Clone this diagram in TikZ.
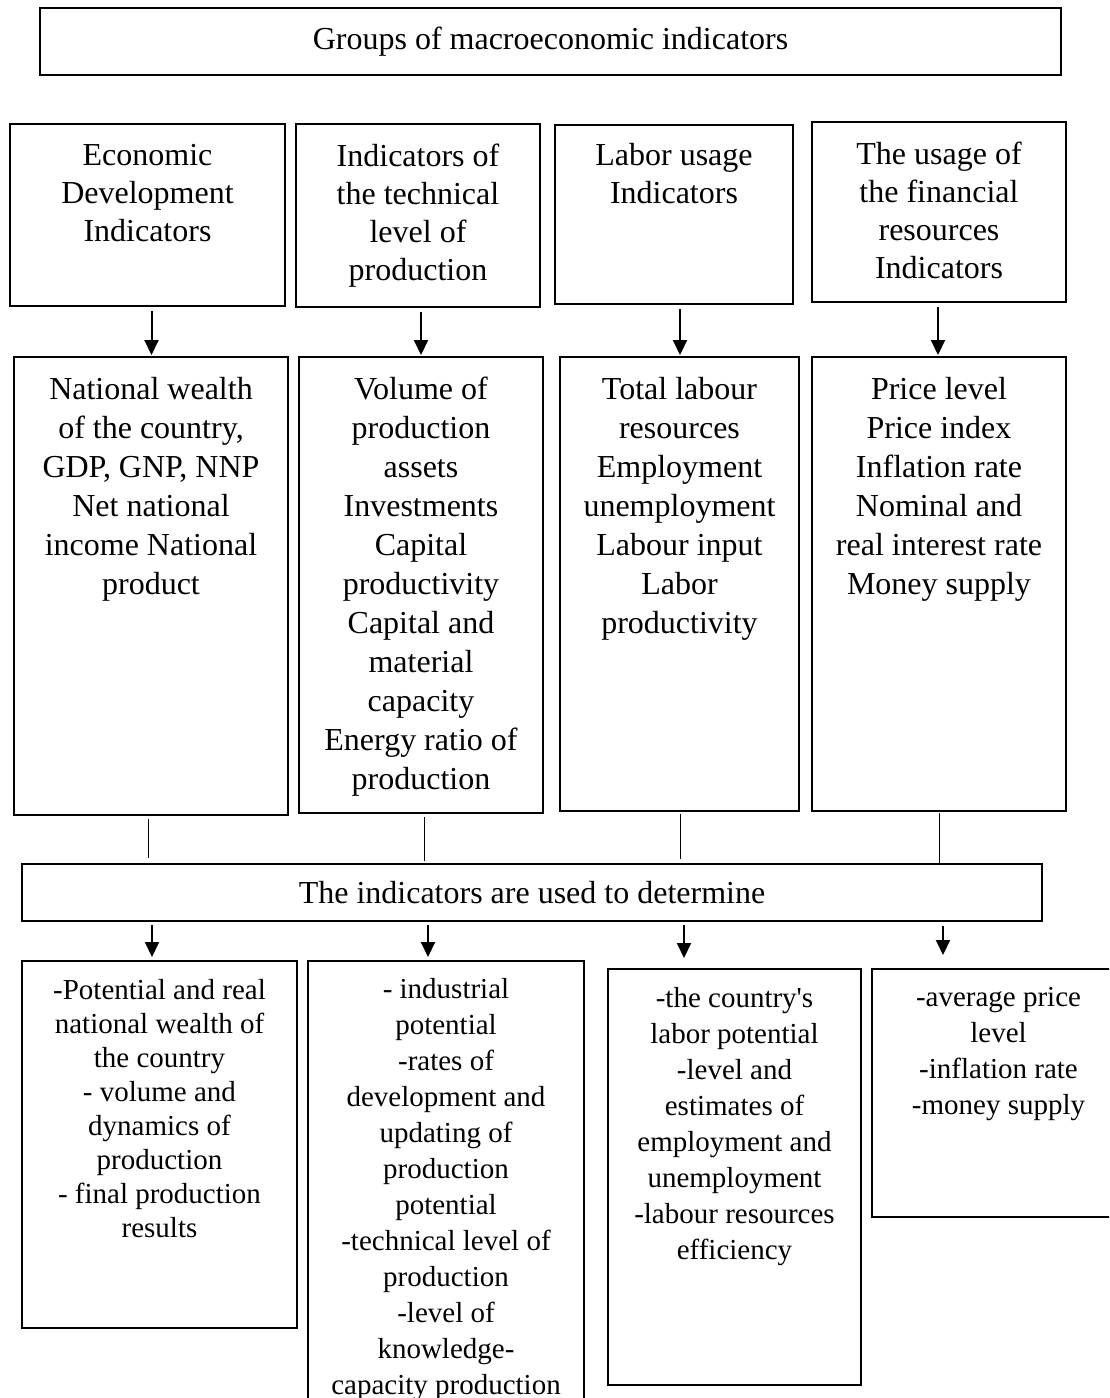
\documentclass[tikz,border=0pt]{standalone}
\usepackage{fontspec}
\setmainfont{Liberation Serif}
\usetikzlibrary{arrows.meta}
\begin{document}
\begin{tikzpicture}[x=1pt,y=-1pt,
  box/.style={draw, line width=2.5pt, rectangle, inner sep=0pt, outer sep=0pt, anchor=north west},
  hdr/.style={font=\fontsize{32}{38}\selectfont, align=center, inner sep=0pt, anchor=north},
  mdt/.style={font=\fontsize{32}{39}\selectfont, align=center, inner sep=0pt, anchor=north},
  btx/.style={font=\fontsize{29}{36}\selectfont, align=center, inner sep=0pt, anchor=north},
  arr/.style={line width=2pt, -{Triangle[width=14pt,length=15pt]}},
  thinline/.style={line width=1pt}
]
\clip (0,0) rectangle (1109,1398);
\fill[white] (0,0) rectangle (1109,1398);

% title
\node[box, minimum width=1021pt, minimum height=67pt, font=\fontsize{32}{39}\selectfont] (title) at (40,8) {Groups of macroeconomic indicators};

% header row
\node[box, minimum width=275pt, minimum height=182pt] (A) at (10,124) {};
\node[box, minimum width=244pt, minimum height=183pt] (B) at (296,124) {};
\node[box, minimum width=238pt, minimum height=179pt] (C) at (555,125) {};
\node[box, minimum width=254pt, minimum height=180pt] (D) at (812,122) {};
\node[hdr] (At) at ([yshift=-20pt]A.north) {Economic\\Development\\Indicators};
\node[hdr] (Bt) at ([yshift=-20pt]B.north) {Indicators of\\the technical\\level of\\production};
\node[hdr] (Ct) at ([yshift=-18pt]C.north) {Labor usage\\Indicators};
\node[hdr] (Dt) at ([yshift=-20pt]D.north) {The usage of\\the financial\\resources\\Indicators};

% second row
\node[box, minimum width=274pt, minimum height=458pt] (A2) at (14,357) {};
\node[box, minimum width=244pt, minimum height=456pt] (B2) at (299,357) {};
\node[box, minimum width=239pt, minimum height=454pt] (C2) at (560,357) {};
\node[box, minimum width=254pt, minimum height=454pt] (D2) at (812,357) {};
\node[mdt] (A2t) at ([yshift=-20pt]A2.north) {National wealth\\of the country,\\GDP, GNP, NNP\\Net national\\income National\\product};
\node[mdt] (B2t) at ([yshift=-20pt]B2.north) {Volume of\\production\\assets\\Investments\\Capital\\productivity\\Capital and\\material\\capacity\\Energy ratio of\\production};
\node[mdt] (C2t) at ([yshift=-20pt]C2.north) {Total labour\\resources\\Employment\\unemployment\\Labour input\\Labor\\productivity};
\node[mdt] (D2t) at ([yshift=-20pt]D2.north) {Price level\\Price index\\Inflation rate\\Nominal and\\real interest rate\\Money supply};

% middle box
\node[box, minimum width=1020pt, minimum height=57pt, font=\fontsize{32}{39}\selectfont] (mid) at (22,864) {The indicators are used to determine};

% bottom row
\node[box, minimum width=275pt, minimum height=367pt] (E) at (22,961) {};
\node[box, minimum width=276pt, minimum height=449pt] (F) at (308,961) {};
\node[box, minimum width=253pt, minimum height=416pt] (G) at (608,969) {};
\node[box, minimum width=253pt, minimum height=248pt] (H) at (872,969) {};
\node[btx, font=\fontsize{29}{34}\selectfont] (Et) at ([yshift=-18pt]E.north) {-Potential and real\\national wealth of\\the country\\- volume and\\dynamics of\\production\\- final production\\results};
\node[btx] (Ft) at ([yshift=-17pt]F.north) {- industrial\\potential\\-rates of\\development and\\updating of\\production\\potential\\-technical level of\\production\\-level of\\knowledge-\\capacity production};
\node[btx] (Gt) at ([yshift=-18pt]G.north) {-the country\textquotesingle s\\labor potential\\-level and\\estimates of\\employment and\\unemployment\\-labour resources\\efficiency};
\node[btx] (Ht) at ([yshift=-18pt]H.north) {-average price\\level\\-inflation rate\\-money supply};

% x positions of connectors
\coordinate (xa1) at (151.5,0);
\coordinate (xa2) at (421,0);
\coordinate (xa3) at (680,0);
\coordinate (xa4) at (938,0);
\coordinate (xl1) at (148.5,0);
\coordinate (xl2) at (424,0);
\coordinate (xl3) at (680,0);
\coordinate (xl4) at (939,0);
\coordinate (xb1) at (152,0);
\coordinate (xb2) at (428,0);
\coordinate (xb3) at (684,0);
\coordinate (xb4) at (943,0);

% arrows header -> second row
\draw[arr, shorten <=5pt, shorten >=2pt] (A.south -| xa1) -- (A2.north -| xa1);
\draw[arr, shorten <=5pt, shorten >=2pt] (B.south -| xa2) -- (B2.north -| xa2);
\draw[arr, shorten <=5pt, shorten >=2pt] (C.south -| xa3) -- (C2.north -| xa3);
\draw[arr, shorten <=5pt, shorten >=2pt] (D.south -| xa4) -- (D2.north -| xa4);

% thin lines second row -> middle
\draw[thinline, shorten <=4pt, shorten >=6pt] (A2.south -| xl1) -- (mid.north -| xl1);
\draw[thinline, shorten <=4pt, shorten >=3pt] (B2.south -| xl2) -- (mid.north -| xl2);
\draw[thinline, shorten <=3pt, shorten >=5pt] (C2.south -| xl3) -- (mid.north -| xl3);
\draw[thinline, shorten <=2pt, shorten >=1pt] (D2.south -| xl4) -- (mid.north -| xl4);

% arrows middle -> bottom row
\draw[arr, shorten <=4pt, shorten >=4pt] (mid.south -| xb1) -- (E.north -| xb1);
\draw[arr, shorten <=4pt, shorten >=4pt] (mid.south -| xb2) -- (F.north -| xb2);
\draw[arr, shorten <=4pt, shorten >=11pt] (mid.south -| xb3) -- (G.north -| xb3);
\draw[arr, shorten <=5pt, shorten >=14pt] (mid.south -| xb4) -- (H.north -| xb4);
\end{tikzpicture}
\end{document}
